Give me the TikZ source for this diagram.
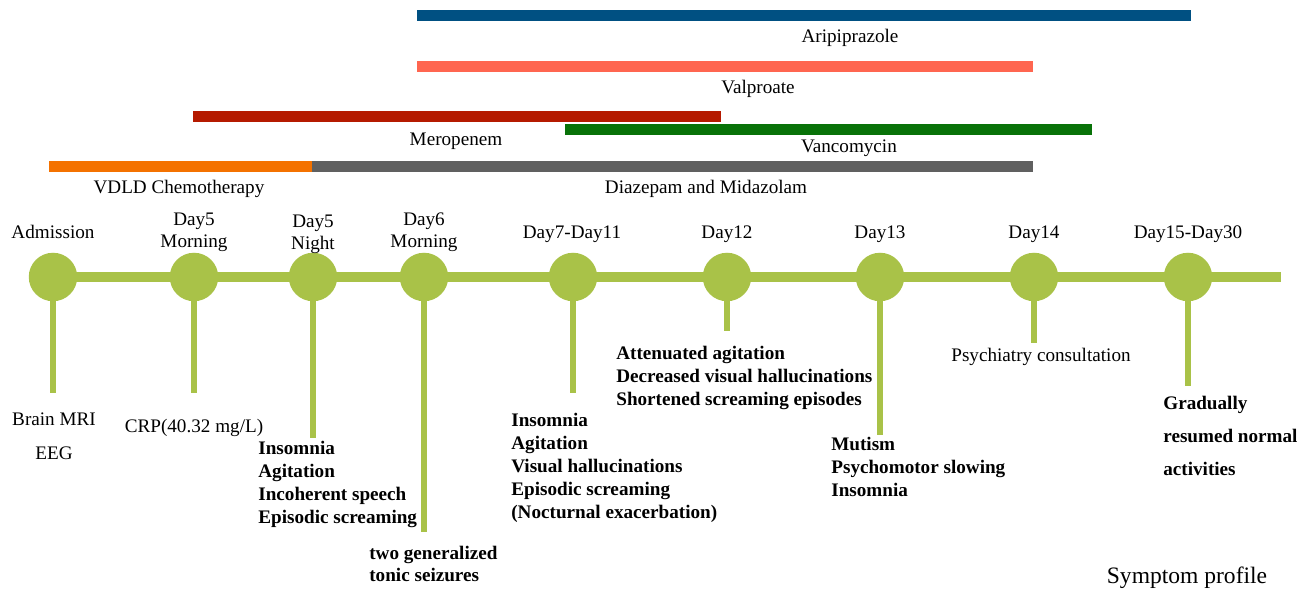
\documentclass[tikz,border=0pt]{standalone}
\usepackage{fontspec}
\setmainfont{Liberation Serif}
\usepackage{xcolor}
\usetikzlibrary{positioning, backgrounds}

\definecolor{aripblue}{RGB}{0,80,130}
\definecolor{valpsalmon}{RGB}{255,102,80}
\definecolor{merored}{RGB}{181,26,0}
\definecolor{vancogreen}{RGB}{8,114,8}
\definecolor{chemoorange}{RGB}{244,114,0}
\definecolor{diazgray}{RGB}{96,96,96}
\definecolor{lineolive}{RGB}{169,194,72}

\begin{document}
\begin{tikzpicture}[
            x=0.02cm, y=-0.02cm,
            every node/.style={inner sep=0pt, font=\fontsize{10.9}{13}\selectfont},
            drugbar/.style={line width=0.22cm},
            spine/.style={line width=0.2cm, lineolive},
            stem/.style={line width=0.12cm, lineolive},
            event/.style={circle, fill=lineolive, minimum size=0.97cm},
            twoline/.style={anchor=south, align=center, font=\fontsize{10.9}{12.5}\selectfont},
            findings/.style={anchor=north west, align=left, font=\fontsize{10.9}{13.1}\selectfont\bfseries},
        ]
            \useasboundingbox (0,0) rectangle (1309,590);

            \draw[drugbar, aripblue] (417,15.5) -- (1191,15.5);
            \node[anchor=base] (arip) at (850,43) {Aripiprazole};
            \draw[drugbar, valpsalmon] (417,66.5) -- (1033,66.5);
            \node[anchor=base] (valp) at (758,94) {Valproate};
            \draw[drugbar, merored] (193,116.5) -- (721,116.5);
            \node[anchor=base] (mero) at (456,146) {Meropenem};
            \draw[drugbar, vancogreen] (565,129.5) -- (1092,129.5);
            \node[anchor=base] (vanco) at (849,153) {Vancomycin};
            \draw[drugbar, chemoorange] (49,166.5) -- (312,166.5);
            \node[anchor=base] (vdld) at (179,194) {VDLD Chemotherapy};
            \draw[drugbar, diazgray] (312,166.5) -- (1033,166.5);
            \node[anchor=base] (diaz) at (706,194) {Diazepam and Midazolam};

            \node[event] (adm) at (53,277) {};
            \node[event] (d5m) at (194,277) {};
            \node[event] (d5n) at (313,277) {};
            \node[event] (d6m) at (424,277) {};
            \node[event] (d7) at (573,277) {};
            \node[event] (d12) at (727,277) {};
            \node[event] (d13) at (880,277) {};
            \node[event] (d14) at (1034,277) {};
            \node[event] (d15) at (1188,277) {};
            \coordinate (lineend) at (1281,277);

            \coordinate (admfoot) at (53,393);
            \coordinate (d5mfoot) at (194,393);
            \coordinate (d5nfoot) at (313,438);
            \coordinate (d6mfoot) at (424,532);
            \coordinate (d7foot) at (573,393);
            \coordinate (d12foot) at (727,331);
            \coordinate (d13foot) at (880,435);
            \coordinate (d14foot) at (1034,343);
            \coordinate (d15foot) at (1188,386);

            \begin{scope}[on background layer]
                \draw[spine] (adm.center) -- (lineend);
                \draw[stem] (adm.center) -- (admfoot);
                \draw[stem] (d5m.center) -- (d5mfoot);
                \draw[stem] (d5n.center) -- (d5nfoot);
                \draw[stem] (d6m.center) -- (d6mfoot);
                \draw[stem] (d7.center) -- (d7foot);
                \draw[stem] (d12.center) -- (d12foot);
                \draw[stem] (d13.center) -- (d13foot);
                \draw[stem] (d14.center) -- (d14foot);
                \draw[stem] (d15.center) -- (d15foot);
            \end{scope}

            \node[anchor=base] (admday) at (53,239) {Admission};
            \node[twoline] (d5mday) at (194,252) {Day5\\Morning};
            \node[twoline] (d5nday) at (313,254) {Day5\\Night};
            \node[twoline] (d6mday) at (424,252) {Day6\\Morning};
            \node[anchor=base] (d7day) at (572,239) {Day7-Day11};
            \node[anchor=base] (d12day) at (727,239) {Day12};
            \node[anchor=base] (d13day) at (880,239) {Day13};
            \node[anchor=base] (d14day) at (1034,239) {Day14};
            \node[anchor=base] (d15day) at (1188,239) {Day15-Day30};

            \node[anchor=north, align=center, font=\fontsize{10.9}{19.4}\selectfont] (admnote) at (54,412) {Brain MRI\\EEG};
            \node[anchor=north] (d5mnote) at (194,419) {CRP(40.32 mg/L)};
            \node[findings] (d5nnote) at (258,441) {Insomnia\\Agitation\\Incoherent speech\\Episodic screaming};
            \node[findings, font=\fontsize{10.9}{12.5}\selectfont\bfseries] (d6mnote) at (369,546) {two generalized\\tonic seizures};
            \node[findings] (d7note) at (511,413) {Insomnia\\Agitation\\Visual hallucinations\\Episodic screaming\\(Nocturnal exacerbation)};
            \node[findings] (d12note) at (616,346) {Attenuated agitation\\Decreased visual hallucinations\\Shortened screaming episodes};
            \node[findings] (d13note) at (831,437) {Mutism\\Psychomotor slowing\\Insomnia};
            \node[anchor=north] (d14note) at (1041,348) {Psychiatry consultation};
            \node[findings, font=\fontsize{10.9}{18.8}\selectfont\bfseries] (d15note) at (1163,396) {Gradually\\resumed normal\\activities};
            \node[anchor=base, font=\fontsize{13.4}{16}\selectfont] (profile) at (1187,584) {Symptom profile};
        \end{tikzpicture}
\end{document}
